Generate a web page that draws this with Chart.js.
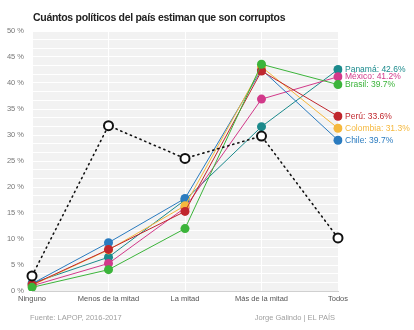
<!DOCTYPE html>
<html>
<head>
<meta charset="utf-8">
<script src="https://cdn.jsdelivr.net/npm/chart.js@4.4.1/dist/chart.umd.min.js"></script>
<style>
  html, body { margin: 0; padding: 0; background: #fff; }
  #wrap { position: relative; width: 414px; height: 330px; overflow: hidden; }
  #chart { position: absolute; left: 0; top: 0; }
  .title {
    position: absolute; left: 33px; top: 11px;
    font-family: "Liberation Sans", Arial, sans-serif;
    font-weight: bold; font-size: 10.5px; color: #222; letter-spacing: -0.3px;
    white-space: nowrap;
  }
  .foot {
    position: absolute; top: 313px;
    font-family: "Liberation Sans", Arial, sans-serif;
    font-size: 7.5px; color: #a0a0a0; white-space: nowrap;
  }
</style>
</head>
<body>
<div id="wrap">
  <canvas id="chart" width="414" height="330"></canvas>
  <div class="title">Cuántos políticos del país estiman que son corruptos</div>
  <div class="foot" style="left:30px">Fuente: LAPOP, 2016-2017</div>
  <div class="foot" style="right:79px">Jorge Galindo | EL PAÍS</div>
</div>
<script>
// categories and tick labels
const categories = ["Ninguno", "Menos de la mitad", "La mitad", "Más de la mitad", "Todos"];
const yTickValues = [0, 5, 10, 15, 20, 25, 30, 35, 40, 45, 50];

// series values (% of respondents)
const promedio = [2.9, 31.8, 25.5, 29.8, 10.2];
const panama   = [1.5, 6.5, 17.5, 31.6, 42.6];
const mexico   = [1.0, 5.3, 16.0, 36.9, 41.2];
const brasil   = [0.7, 4.1, 12.0, 43.6, 39.7];
const peru     = [1.2, 8.0, 15.3, 42.3, 33.6];
const colombia = [1.1, 7.9, 16.4, 43.1, 31.3];
const chile    = [1.4, 9.3, 17.8, 42.6, 29.0];

const endLabels = {
  "Panamá": "Panamá: 42.6%",
  "México": "México: 41.2%",
  "Brasil": "Brasil: 39.7%",
  "Perú": "Perú: 33.6%",
  "Colombia": "Colombia: 31.3%",
  "Chile": "Chile: 39.7%"
};

const FONT = "'Liberation Sans', Arial, sans-serif";

function country(label, data, color) {
  return {
    label,
    data,
    borderColor: color,
    backgroundColor: color,
    borderWidth: 1,
    pointRadius: 4.5,
    pointBorderWidth: 0,
    pointHoverRadius: 4.5,
    tension: 0,
  };
}

// first dataset is painted on top
const datasets = [
  {
    label: "Promedio",
    data: promedio,
    borderColor: "#111",
    borderWidth: 1.6,
    borderDash: [1.2, 4],
    borderCapStyle: "round",
    pointRadius: 4.5,
    pointBorderWidth: 2,
    pointBorderColor: "#111",
    pointBackgroundColor: "#fff",
    tension: 0,
  },
  country("Brasil", brasil, "#3bb43a"),
  country("Perú", peru, "#c0262d"),
  country("Colombia", colombia, "#f5b83d"),
  country("Chile", chile, "#2a7bbf"),
  country("México", mexico, "#d2398a"),
  country("Panamá", panama, "#1b8a8c"),
];

// grey plot background
const plotBg = {
  id: "plotBg",
  beforeDraw(chart) {
    const { ctx, chartArea: a } = chart;
    ctx.save();
    ctx.fillStyle = "#f2f2f2";
    ctx.fillRect(a.left, a.top, a.right - a.left, a.bottom - a.top);
    ctx.restore();
  },
};

// country labels next to the last point
const endLabelPlugin = {
  id: "endLabelPlugin",
  afterDatasetsDraw(chart) {
    const ctx = chart.ctx;
    ctx.save();
    ctx.font = "8.5px " + FONT;
    ctx.textBaseline = "middle";
    ctx.textAlign = "left";
    chart.data.datasets.forEach((ds, i) => {
      const txt = endLabels[ds.label];
      if (!txt) return;
      const pts = chart.getDatasetMeta(i).data;
      const p = pts[pts.length - 1];
      ctx.fillStyle = ds.borderColor;
      ctx.fillText(txt, p.x + 7, p.y);
    });
    ctx.restore();
  },
};

new Chart(document.getElementById("chart"), {
  type: "line",
  data: { labels: categories, datasets },
  options: {
    responsive: false,
    animation: false,
    layout: { padding: { left: 4, right: 76, top: 31, bottom: 24 } },
    plugins: {
      legend: { display: false },
      tooltip: { enabled: false },
    },
    scales: {
      x: {
        offset: false,
        grid: { color: "#fff", lineWidth: 1, drawTicks: false },
        border: { display: true, color: "#d0d0d0" },
        ticks: {
          color: "#555",
          padding: 3,
          maxRotation: 0,
          font: { family: FONT, size: 7.5 },
        },
      },
      y: {
        min: 0,
        max: 50,
        afterBuildTicks(scale) {
          const t = [];
          for (let i = 0; i <= 30; i++) t.push({ value: (i * 5) / 3 });
          scale.ticks = t;
        },
        afterFit(scale) {
          scale.width = 28;
        },
        grid: { color: "#fff", lineWidth: 1, drawTicks: false },
        border: { display: false },
        ticks: {
          color: "#777",
          padding: 8,
          autoSkip: false,
          font: { family: FONT, size: 7.5 },
          callback(v) {
            const hit = yTickValues.find((y) => Math.abs(y - v) < 0.01);
            return hit === undefined ? "" : hit + " %";
          },
        },
      },
    },
  },
  plugins: [plotBg, endLabelPlugin],
});
</script>
</body>
</html>
